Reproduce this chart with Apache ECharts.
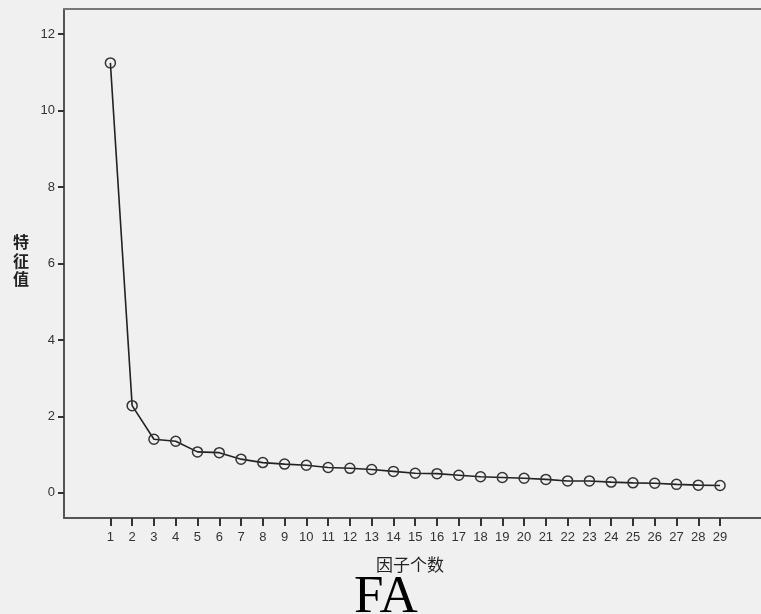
<!DOCTYPE html>
<html>
<head>
<meta charset="utf-8">
<script src="https://cdn.jsdelivr.net/npm/echarts@6/dist/echarts.min.js"></script>
<style>
html,body{margin:0;padding:0;background:#f0f0f0;}
#c{width:761px;height:614px;}
</style>
</head>
<body>
<div id="c"></div>
<script>
var factors = [1,2,3,4,5,6,7,8,9,10,11,12,13,14,15,16,17,18,19,20,21,22,23,24,25,26,27,28,29];
var eigenvalues = [11.25,2.28,1.40,1.35,1.07,1.05,0.88,0.79,0.75,0.72,0.66,0.64,0.61,0.56,0.51,0.50,0.46,0.42,0.40,0.38,0.35,0.31,0.31,0.28,0.26,0.25,0.22,0.20,0.19];
var yTicks = [0,2,4,6,8,10,12];
var xTitle = '因子个数';
var yTitle = '特征值';
var caption = 'FA';

var chart = echarts.init(document.getElementById('c'));
var axisColor = '#555';
chart.setOption({
  backgroundColor: '#f0f0f0',
  animation: false,
  grid: {left: 64, top: 9, right: 0, bottom: 96, containLabel: false},
  xAxis: [{
    type: 'value', min: -1.13, max: 30.88, position: 'bottom',
    axisLine: {show: true, onZero: false, lineStyle: {color: axisColor, width: 2}},
    axisTick: {show: true, customValues: factors, length: 8, lineStyle: {color: '#333', width: 2}},
    axisLabel: {show: true, customValues: factors, color: '#333', fontSize: 13, fontFamily: 'Liberation Sans', margin: 13},
    splitLine: {show: false}
  }, {
    type: 'value', min: -1.13, max: 30.88, position: 'top',
    axisLine: {show: true, onZero: false, lineStyle: {color: '#777', width: 2}},
    axisTick: {show: false}, axisLabel: {show: false}, splitLine: {show: false}
  }],
  yAxis: {
    type: 'value', min: -0.66, max: 12.66,
    axisLine: {show: true, onZero: false, lineStyle: {color: axisColor, width: 2}},
    axisTick: {show: true, customValues: yTicks, length: 6, lineStyle: {color: '#333', width: 2}},
    axisLabel: {show: true, customValues: yTicks, color: '#333', fontSize: 13, fontFamily: 'Liberation Sans', margin: 9},
    splitLine: {show: false}
  },
  series: [{
    type: 'line',
    xAxisIndex: 0,
    data: factors.map(function(f, i){ return [f, eigenvalues[i]]; }),
    symbol: 'circle', symbolSize: 10,
    itemStyle: {color: 'rgba(0,0,0,0)', borderColor: '#333', borderWidth: 1.5},
    lineStyle: {color: '#222', width: 1.6},
    emphasis: {disabled: true}
  }],
  graphic: [
    {type: 'text', left: 13, top: 233, style: {text: yTitle.split('').join('\n'), fontSize: 16, lineHeight: 18.5, fontFamily: 'Noto Sans CJK SC', fontWeight: 'bold', fill: '#222'}},
    {type: 'text', left: 376, top: 556, style: {text: xTitle, fontSize: 17, fontFamily: 'Noto Sans CJK SC', fill: '#222'}},
    {type: 'text', left: 354, top: 572, style: {text: caption, fontSize: 53, fontFamily: 'Liberation Serif', fill: '#000'}}
  ]
});
</script>
</body>
</html>
